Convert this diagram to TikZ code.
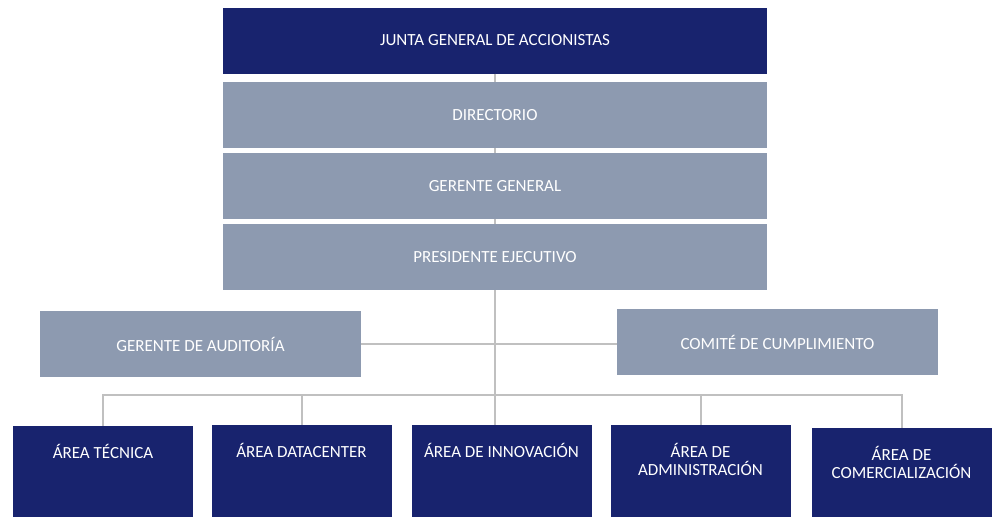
\documentclass[tikz,border=0pt]{standalone}
\usepackage{fontspec}
\setmainfont{Carlito}
\definecolor{navy}{RGB}{24,35,110}
\definecolor{slate}{RGB}{141,154,176}
\definecolor{linkgray}{RGB}{192,192,192}
\newcommand{\areatext}[2][91pt]{\parbox[t][#1][t]{180pt}{\centering\rule{0pt}{32pt}#2}}

\begin{document}
\begin{tikzpicture}
  [x=1pt,y=-1pt,
   every node/.style={inner sep=0pt, text=white, font=\fontsize{17}{18}\selectfont},
   topbox/.style={fill=slate, minimum width=544pt, minimum height=66pt},
   sidebox/.style={fill=slate, minimum width=321pt, minimum height=66pt},
   area/.style={fill=navy, anchor=north},
   link/.style={draw=linkgray, line width=2pt}]
  \useasboundingbox (0,0) rectangle (997,517);

  \node[topbox, fill=navy] (junta) at (495,40.5) {JUNTA GENERAL DE ACCIONISTAS};
  \node[topbox] (dir) at (495,115) {DIRECTORIO};
  \node[topbox] (gg)  at (495,186) {GERENTE GENERAL};
  \node[topbox] (pe)  at (495,257) {PRESIDENTE EJECUTIVO};

  \node[sidebox] (aud) at (200.5,344) {GERENTE DE AUDITORÍA};
  \node[sidebox] (com) at (777.5,342) {COMITÉ DE CUMPLIMIENTO};

  \node[area] (a1) at (103,426)   {\areatext{ÁREA TÉCNICA}};
  \node[area] (a2) at (301.5,425) {\areatext[92pt]{ÁREA DATACENTER}};
  \node[area] (a3) at (501.5,425) {\areatext[92pt]{ÁREA DE INNOVACIÓN}};
  \node[area] (a4) at (700.5,425) {\areatext[92pt]{ÁREA DE\\ADMINISTRACIÓN}};
  \node[area] (a5) at (901.5,428) {\areatext[89pt]{ÁREA DE\\COMERCIALIZACIÓN}};

  \foreach \from/\to in {junta/dir,dir/gg,gg/pe}
    \draw[link] (\from) -- (\to);
  \draw[link] (pe.south) -- (pe.south |- a3.north);
  \draw[link] (aud.east) -- (aud.east -| com.west);
  \coordinate (bus) at (495,395);
  \foreach \a in {a1,a2,a4,a5}
    \draw[link] (bus) -| (\a.north);
\end{tikzpicture}
\end{document}
